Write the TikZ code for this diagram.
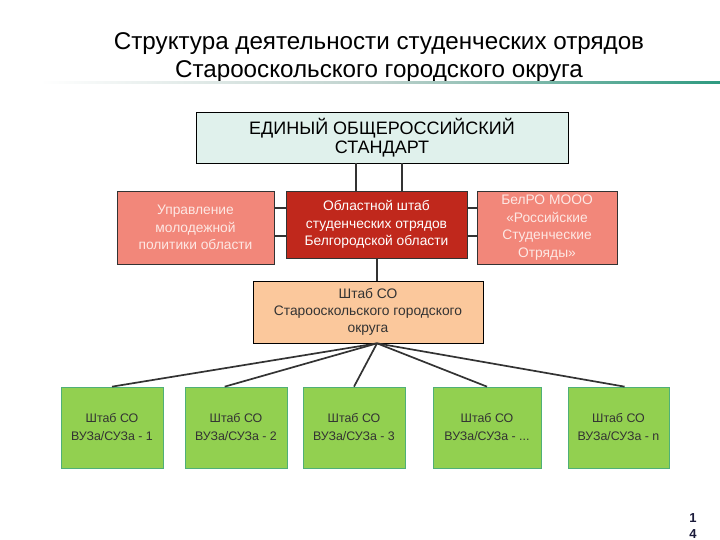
\documentclass[tikz,border=0pt]{standalone}
\usepackage{fontspec}
\setmainfont{Liberation Sans}
\usetikzlibrary{calc}
\definecolor{topfill}{HTML}{E0F1EC}
\definecolor{salmon}{HTML}{F2877A}
\definecolor{darkred}{HTML}{C0281C}
\definecolor{peach}{HTML}{FBC89C}
\definecolor{lgreen}{HTML}{92D050}
\definecolor{gborder}{HTML}{4FAF78}
\definecolor{teal}{HTML}{2E9A80}
\definecolor{linec}{HTML}{333333}
\definecolor{pinkw}{HTML}{FDE8E4}
\definecolor{navy}{HTML}{1A1A3A}
\tikzset{
  box/.style={rectangle, inner sep=0pt, align=center, line width=0.7pt},
  topbox/.style={box, draw=black, fill=topfill, font=\fontsize{18}{19.5}\selectfont},
  redbox/.style={box, draw=linec, fill=salmon, text=pinkw, font=\fontsize{13.8}{17.5}\selectfont},
  midbox/.style={box, draw=linec, fill=darkred, text=white, font=\fontsize{13.8}{17.5}\selectfont},
  orgbox/.style={box, draw=black, fill=peach, text=linec, font=\fontsize{13.8}{17}\selectfont},
  grbox/.style={box, draw=gborder, fill=lgreen, text=linec, minimum height=81pt, font=\fontsize{12.4}{18}\selectfont},
  conn/.style={draw=linec, line width=1.7pt},
}
\begin{document}
\begin{tikzpicture}[x=1pt,y=-1pt]
\useasboundingbox (0,0) rectangle (720,540);
% title
\node[font=\fontsize{24.2}{28}\selectfont, align=center] (title) at (379,57.5)
  {Структура деятельности студенческих отрядов\\Старооскольского городского округа};
\shade[left color=white, right color=teal, middle color=teal!45!gray!40] (40,82) rectangle (720,84);
% boxes
\node[topbox, minimum width=372pt, minimum height=51pt] (top) at (382,137.5) {ЕДИНЫЙ ОБЩЕРОССИЙСКИЙ\\СТАНДАРТ};
\node[redbox, minimum width=157pt, minimum height=73pt] (left) at (195.5,227.5) {Управление\\молодежной\\политики области};
\node[midbox, minimum width=181pt, minimum height=67pt] (mid) at (376.5,224.5) {Областной штаб\\студенческих отрядов\\Белгородской области};
\node[redbox, minimum width=140pt, minimum height=73pt] (right) at (547,227.5) {БелРО МООО\\«Российские\\Студенческие\\Отряды»};
\node[orgbox, minimum width=230pt, minimum height=62pt] (org) at (368,312) {Штаб СО\\Старооскольского городского\\округа};
\node[grbox, minimum width=102pt] (g1) at (112,427.5) {Штаб СО\\ВУЗа/СУЗа - 1};
\node[grbox, minimum width=102pt] (g2) at (236,427.5) {Штаб СО\\ВУЗа/СУЗа - 2};
\node[grbox, minimum width=102pt] (g3) at (354,427.5) {Штаб СО\\ВУЗа/СУЗа - 3};
\node[grbox, minimum width=108pt] (g4) at (487,427.5) {Штаб СО\\ВУЗа/СУЗа - ...};
\node[grbox, minimum width=101pt] (g5) at (618.5,427.5) {Штаб СО\\ВУЗа/СУЗа - n};
% page number
\node[font=\bfseries\fontsize{13}{16}\selectfont, text=navy, align=center, inner sep=0pt] (pg) at (693,526) {1\\4};
% connectors
\coordinate (va) at (356,0);
\coordinate (vb) at (402,0);
\coordinate (ha) at (0,208);
\coordinate (hb) at (0,236);
\coordinate (oc) at (377,0);
\draw[conn] (top.south -| va) -- (mid.north -| va);
\draw[conn] (top.south -| vb) -- (mid.north -| vb);
\draw[conn] (left.east |- ha) -- (mid.west |- ha);
\draw[conn] (left.east |- hb) -- (mid.west |- hb);
\draw[conn] (mid.east |- ha) -- (right.west |- ha);
\draw[conn] (mid.east |- hb) -- (right.west |- hb);
\draw[conn] (mid.south -| oc) -- (org.north -| oc);
\coordinate (fan) at (org.south -| oc);
\draw[conn] (fan) -- (g1.north);
\draw[conn] (fan) -- ($(g2.north west)!0.39!(g2.north east)$);
\draw[conn] (fan) -- (g3.north);
\draw[conn] (fan) -- (g4.north);
\draw[conn] (fan) -- ($(g5.north west)!0.56!(g5.north east)$);
\end{tikzpicture}
\end{document}
